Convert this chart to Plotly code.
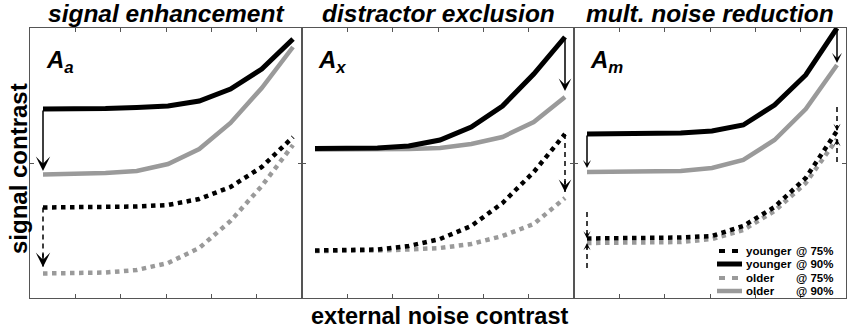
import plotly.graph_objects as go

# ---------------- data ----------------
noise_level = [0, 1, 2, 3, 4, 5, 6, 7, 8]

# panel 1: signal enhancement
se_young_90 = [1.89, 1.89, 1.895, 1.905, 1.92, 1.97, 2.09, 2.29, 2.59]
se_old_90 = [1.235, 1.24, 1.25, 1.27, 1.34, 1.49, 1.75, 2.10, 2.51]
se_young_75 = [0.905, 0.905, 0.91, 0.915, 0.93, 0.99, 1.11, 1.31, 1.61]
se_old_75 = [0.245, 0.25, 0.255, 0.28, 0.35, 0.50, 0.77, 1.12, 1.53]

# panel 2: distractor exclusion
de_young_90 = [1.495, 1.495, 1.50, 1.52, 1.58, 1.71, 1.92, 2.24, 2.61]
de_old_90 = [1.485, 1.485, 1.485, 1.49, 1.50, 1.54, 1.61, 1.76, 2.01]
de_young_75 = [0.475, 0.475, 0.485, 0.52, 0.59, 0.72, 0.95, 1.26, 1.64]
de_old_75 = [0.47, 0.47, 0.475, 0.485, 0.50, 0.54, 0.62, 0.74, 1.00]

# panel 3: multiplicative noise reduction
mn_young_90 = [1.64, 1.64, 1.645, 1.65, 1.67, 1.73, 1.93, 2.23, 2.70]
mn_old_90 = [1.26, 1.26, 1.265, 1.27, 1.30, 1.38, 1.58, 1.89, 2.33]
mn_young_75 = [0.595, 0.595, 0.60, 0.605, 0.62, 0.72, 0.91, 1.20, 1.67]
mn_old_75 = [0.55, 0.55, 0.555, 0.56, 0.59, 0.68, 0.87, 1.15, 1.59]

titles = ["signal enhancement", "distractor exclusion", "mult. noise reduction"]
panel_labels = [("A", "a"), ("A", "x"), ("A", "m")]
legend_names = ["younger", "younger", "older", "older"]
legend_levels = ["@ 75%", "@ 90%", "@ 75%", "@ 90%"]

# ---------------- layout helpers ----------------
W, H = 850, 330
FONT = "Liberation Sans, Arial, sans-serif"
BLACK = "#000000"
GRAY = "#9a9a9a"
AXC = "#555555"

def px(x):
    return x / W

def py(y):
    return 1 - y / H

X_RANGE = [-0.416, 8.288]
Y_RANGE = [0, 2.70]
xt = [X_RANGE[0] + k * (X_RANGE[1] - X_RANGE[0]) / 6 for k in range(1, 6)]
yt = [(Y_RANGE[0] + Y_RANGE[1]) / 2]

domains = [[px(30), px(302)], [px(302), px(574)], [px(574), px(846)]]
ydom = [py(298), py(28)]

panels = [
    (se_young_75, se_young_90, se_old_75, se_old_90),
    (de_young_75, de_young_90, de_old_75, de_old_90),
    (mn_young_75, mn_young_90, mn_old_75, mn_old_90),
]

fig = go.Figure()

for i, (y75, y90, o75, o90) in enumerate(panels):
    xa = "x" if i == 0 else f"x{i+1}"
    ya = "y" if i == 0 else f"y{i+1}"
    styles = [
        (o90, dict(color=GRAY, width=4.5)),
        (o75, dict(color=GRAY, width=4.5, dash="4.5px,4.5px")),
        (y90, dict(color=BLACK, width=5)),
        (y75, dict(color=BLACK, width=4.5, dash="4.5px,4.5px")),
    ]
    for vals, line in styles:
        fig.add_trace(go.Scatter(x=noise_level, y=vals, mode="lines", line=line,
                                 xaxis=xa, yaxis=ya, showlegend=False,
                                 hoverinfo="skip"))

axis_common = dict(showline=True, linecolor=AXC, linewidth=1, mirror="ticks",
                   ticks="inside", ticklen=4, tickcolor=AXC, tickwidth=1,
                   showticklabels=False, showgrid=False, zeroline=False)

layout = dict(width=W, height=H, margin=dict(l=0, r=0, t=0, b=0),
              paper_bgcolor="white", plot_bgcolor="white", showlegend=False)
for i in range(3):
    sx = "" if i == 0 else str(i + 1)
    layout[f"xaxis{sx}"] = dict(domain=domains[i], range=X_RANGE, tickvals=xt,
                                anchor=f"y{sx}", **axis_common)
    layout[f"yaxis{sx}"] = dict(domain=ydom, range=Y_RANGE, tickvals=yt,
                                anchor=f"x{sx}", **axis_common)
fig.update_layout(**layout)

ann = []
shapes = []

# titles
for i, t in enumerate(titles):
    cx = (domains[i][0] + domains[i][1]) / 2
    ann.append(dict(x=cx, y=py(13), xref="paper", yref="paper", text=f"<b><i>{t}</i></b>",
                    showarrow=False, font=dict(family=FONT, size=24.5, color="black"),
                    xanchor="center", yanchor="middle"))

# panel labels
label_x = [44, 316, 588]
for i, (a, s) in enumerate(panel_labels):
    ann.append(dict(x=px(label_x[i]), y=py(62), xref="paper", yref="paper",
                    text=f"<b><i>{a}<sub>{s}</sub></i></b>", showarrow=False,
                    font=dict(family=FONT, size=24, color="black"),
                    xanchor="left", yanchor="middle"))

# axis titles
ann.append(dict(x=px(18), y=py(169), xref="paper", yref="paper", text="<b>signal contrast</b>",
                textangle=-90, showarrow=False, font=dict(family=FONT, size=24, color="black"),
                xanchor="center", yanchor="middle"))
ann.append(dict(x=px(439), y=py(316), xref="paper", yref="paper",
                text="<b>external noise contrast</b>", showarrow=False,
                font=dict(family=FONT, size=23.5, color="black"),
                xanchor="center", yanchor="middle"))

def solid_arrow(xa, ya, x, y0, y1, size):
    ann.append(dict(x=x, y=y1, ax=x, ay=y0, xref=xa, yref=ya, axref=xa, ayref=ya,
                    text="", showarrow=True, arrowhead=3, arrowsize=size,
                    arrowwidth=1.5, arrowcolor="black", standoff=0))

def dashed_arrow(xa, ya, x, y0, y1, size):
    headlen = 6 * 1.5 * size
    # pixel offset of the tail: negative = above the tip
    off = -headlen if y1 < y0 else headlen
    shapes.append(dict(type="line", xref=xa, yref=ya, x0=x, x1=x, y0=y0, y1=y1,
                       line=dict(color="black", width=1.5, dash="5px,4px")))
    ann.append(dict(x=x, y=y1, xref=xa, yref=ya, ax=0, ay=off,
                    text="", showarrow=True, arrowhead=3, arrowsize=size,
                    arrowwidth=1.5, arrowcolor="black", standoff=0))

# panel 1 arrows
solid_arrow("x", "y", 0, se_young_90[0], 1.27, 1.6)
dashed_arrow("x", "y", 0, se_young_75[0], 0.31, 1.6)
# panel 2 arrows
solid_arrow("x2", "y2", 8, de_young_90[8], 2.07, 1.4)
dashed_arrow("x2", "y2", 8, de_young_75[8], 1.06, 1.4)
# panel 3 arrows
solid_arrow("x3", "y3", 8, mn_young_90[8], 2.35, 1.1)
solid_arrow("x3", "y3", 0, mn_young_90[0], 1.30, 0.9)
dashed_arrow("x3", "y3", 0, 0.86, mn_young_75[0], 0.8)
dashed_arrow("x3", "y3", 0, 0.30, mn_old_75[0], 0.8)
dashed_arrow("x3", "y3", 8, 1.91, mn_young_75[8], 0.8)
dashed_arrow("x3", "y3", 8, 1.36, mn_old_75[8], 0.8)

# custom legend
leg_y = [251, 264, 278, 291]
leg_styles = [
    dict(color=BLACK, width=4, dash="6px,7px"),
    dict(color=BLACK, width=5),
    dict(color=GRAY, width=4, dash="6px,7px"),
    dict(color=GRAY, width=4.5),
]
for j in range(4):
    dashed = j in (0, 2)
    shapes.append(dict(type="line", xref="paper", yref="paper",
                       x0=px(719 if dashed else 717), x1=px(738 if dashed else 742),
                       y0=py(leg_y[j]), y1=py(leg_y[j]), line=leg_styles[j]))
    ann.append(dict(x=px(744), y=py(leg_y[j]), xref="paper", yref="paper",
                    text=f"<b>{legend_names[j]}</b>", showarrow=False,
                    font=dict(family=FONT, size=11.5, color="black"),
                    xanchor="left", yanchor="middle"))
    ann.append(dict(x=px(835), y=py(leg_y[j]), xref="paper", yref="paper",
                    text=f"<b>{legend_levels[j]}</b>", showarrow=False,
                    font=dict(family=FONT, size=11.5, color="black"),
                    xanchor="right", yanchor="middle"))

fig.update_layout(annotations=ann, shapes=shapes)
fig.write_html("out.html", config={"displayModeBar": False},
               post_script="document.body.style.margin='0px';document.body.style.overflow='hidden';")
